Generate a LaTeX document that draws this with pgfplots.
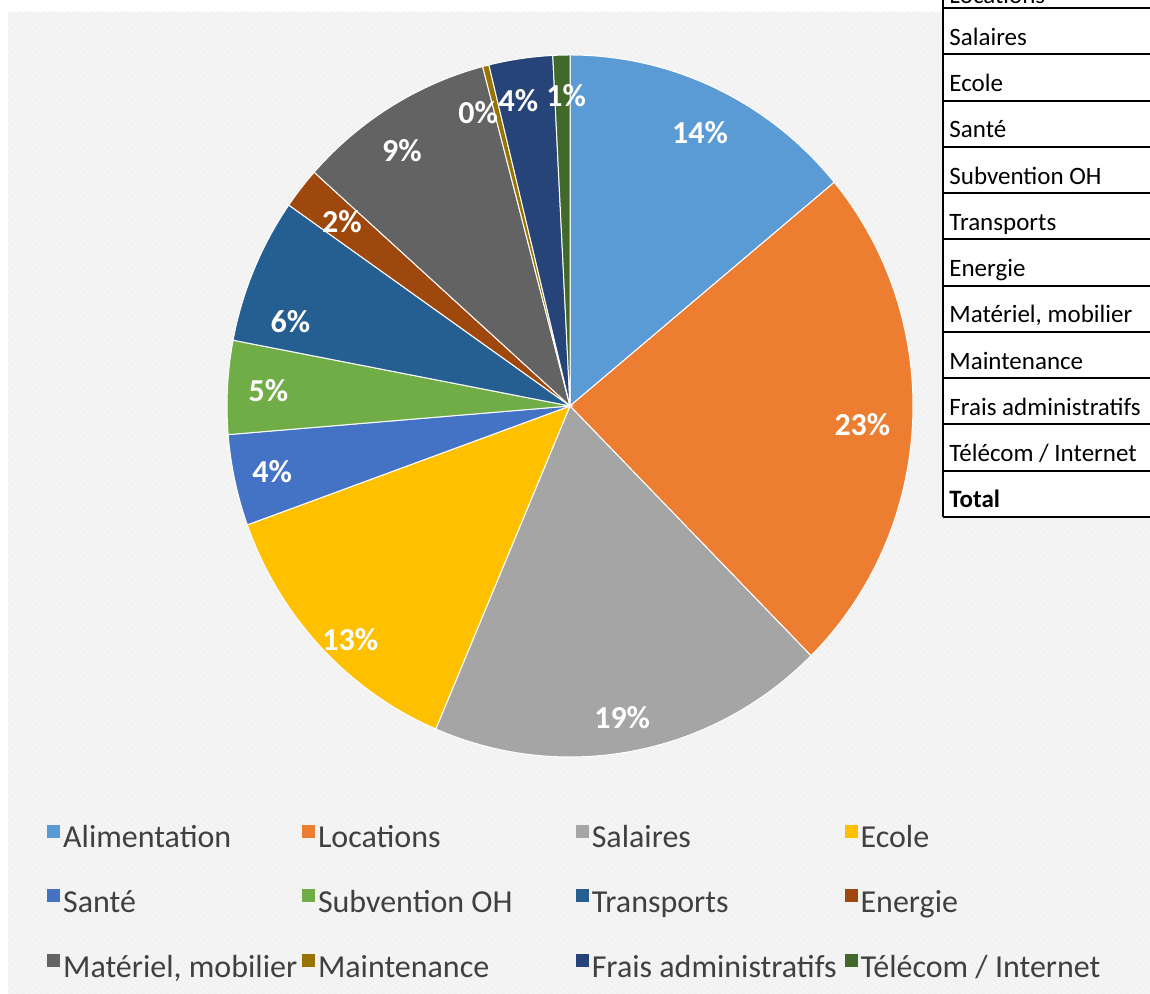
\documentclass[border=0pt]{standalone}
\usepackage{pgfplots}
\usepackage{pgfplotstable}
\pgfplotsset{compat=1.18}
\usepackage{fontspec}
\setmainfont{Carlito}
\usetikzlibrary{patterns}

\definecolor{c0}{HTML}{5B9BD5}
\definecolor{c1}{HTML}{ED7D31}
\definecolor{c2}{HTML}{A5A5A5}
\definecolor{c3}{HTML}{FFC000}
\definecolor{c4}{HTML}{4472C4}
\definecolor{c5}{HTML}{70AD47}
\definecolor{c6}{HTML}{255E91}
\definecolor{c7}{HTML}{9E480E}
\definecolor{c8}{HTML}{636363}
\definecolor{c9}{HTML}{997300}
\definecolor{c10}{HTML}{264478}
\definecolor{c11}{HTML}{43682B}
\definecolor{bgc}{HTML}{F4F4F4}
\definecolor{legtext}{HTML}{404040}

% share of each slice (%), printed label, label angle (deg, clockwise from top), label radius (px)
\pgfplotstableread{
pct  lbl la    lr
14.0 14  25.4  303
23.6 23  93.7  293
18.8 19  170.5 316
13.1 13  223.2 321
4.2  4   257.5 305
4.3  5   273.0 302
6.7  6   286.7 292
1.9  2   308.9 293
9.3  9   326.7 306
0.3  0   342.6 307
3.0  4   350.4 310
0.8  1   359.3 310
}\piedata

\newcommand{\lblfont}{\bfseries\fontsize{16}{19}\selectfont}
\newcommand{\legtxt}[2]{\makebox[#1][l]{#2\strut}}

\begin{document}
\begin{tikzpicture}
% background
\begin{scope}[x=0.5pt, y=0.5pt]
  \fill[white] (0,0) rectangle (1150,994);
  \fill[bgc] (8,0) rectangle (1150,982);
  \fill[pattern=north west lines, pattern color=black!6] (8,0) rectangle (1150,982);
\end{scope}

\begin{axis}[
  x=0.5pt, y=0.5pt,
  xmin=0, xmax=1150, ymin=0, ymax=994,
  hide axis, clip=false,
  legend columns=4,
  legend image code/.code={\fill[#1] (0pt,-0.5pt) rectangle (6pt,5.5pt);},
  legend style={at={(axis cs:41,177)}, anchor=north west, draw=none, fill=none,
    font=\fontsize{16}{19}\selectfont, text=legtext,
    nodes={inner sep=0pt}, row sep=17.5pt,
    /tikz/every odd column/.append style={column sep=1.5pt}},
]
% slices
\def\pieacc{0}
\pgfplotsforeachungrouped \i in {0,...,11}{%
  \pgfplotstablegetelem{\i}{pct}\of\piedata \let\slicepct=\pgfplotsretval
  \pgfmathsetmacro\sa{90-3.6*\pieacc}%
  \pgfmathsetmacro\newacc{\pieacc+\slicepct}%
  \pgfmathsetmacro\ea{90-3.6*\newacc}%
  \edef\temp{\noexpand\fill[c\i, draw=white, line width=0.5pt] (axis cs:570,588)
    -- ++(\sa:171.5pt and 175.5pt)
    arc[start angle=\sa, end angle=\ea, x radius=171.5pt, y radius=175.5pt] -- cycle;}%
  \temp
  \global\let\pieacc\newacc
}
% percentage labels
\pgfplotsforeachungrouped \i in {0,...,11}{%
  \pgfplotstablegetelem{\i}{lbl}\of\piedata \let\lbltxt=\pgfplotsretval
  \pgfplotstablegetelem{\i}{la}\of\piedata \let\labang=\pgfplotsretval
  \pgfplotstablegetelem{\i}{lr}\of\piedata \let\labrad=\pgfplotsretval
  \pgfmathsetmacro\lx{570+\labrad*sin(\labang)}%
  \pgfmathsetmacro\ly{588+\labrad*cos(\labang)}%
  \edef\temp{\noexpand\node[text=white, font=\noexpand\lblfont] at (axis cs:\lx,\ly) {\lbltxt\noexpand\%};}%
  \temp
}
% legend
\addlegendimage{c0}\addlegendentry{\legtxt{119.5pt}{Alimentation}}
\addlegendimage{c1}\addlegendentry{\legtxt{129pt}{Locations}}
\addlegendimage{c2}\addlegendentry{\legtxt{126.5pt}{Salaires}}
\addlegendimage{c3}\addlegendentry{\legtxt{125pt}{Ecole}}
\addlegendimage{c4}\addlegendentry{\legtxt{119.5pt}{Santé}}
\addlegendimage{c5}\addlegendentry{\legtxt{129pt}{Subvention OH}}
\addlegendimage{c6}\addlegendentry{\legtxt{126.5pt}{Transports}}
\addlegendimage{c7}\addlegendentry{\legtxt{125pt}{Energie}}
\addlegendimage{c8}\addlegendentry{\legtxt{119.5pt}{Matériel, mobilier}}
\addlegendimage{c9}\addlegendentry{\legtxt{129pt}{Maintenance}}
\addlegendimage{c10}\addlegendentry{\legtxt{126.5pt}{Frais administratifs}}
\addlegendimage{c11}\addlegendentry{\legtxt{125pt}{Télécom / Internet}}
\end{axis}

% side table (cut off at the top and right, as in the source)
\begin{scope}[x=0.5pt, y=0.5pt]
  \fill[white] (943,477) rectangle (1160,1000);
  \foreach \k in {0,...,11} {
    \draw[line width=1pt] (943,{477+46.25*\k}) -- (1160,{477+46.25*\k});
  }
  \draw[line width=1pt] (943,477) -- (943,1000);
  \node[anchor=base west, inner sep=0pt, font=\fontsize{12.5}{15}\selectfont]
    at (949,990) {Locations};
  \foreach \n [count=\k from 1] in {Salaires, Ecole, Santé, Subvention OH,
      Transports, Energie, {Matériel, mobilier}, Maintenance, Frais administratifs,
      Télécom / Internet} {
    \node[anchor=base west, inner sep=0pt, font=\fontsize{12.5}{15}\selectfont]
      at (949,{486+46.25*(11-\k)}) {\n};
  }
  \node[anchor=base west, inner sep=0pt, font=\bfseries\fontsize{12.5}{15}\selectfont]
    at (949,486) {Total};
\end{scope}

\pgfresetboundingbox
\path[use as bounding box] (0,0) rectangle (575pt,497pt);
\end{tikzpicture}
\end{document}
